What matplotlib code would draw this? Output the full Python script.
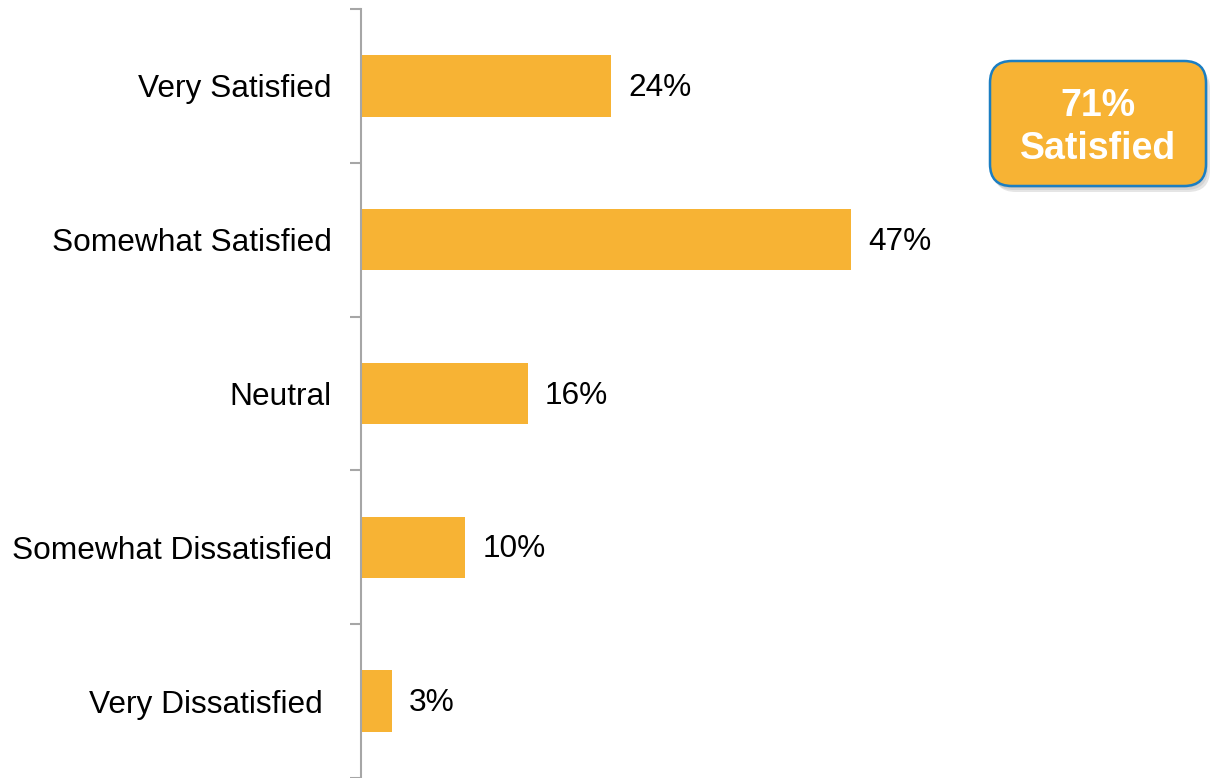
import matplotlib
matplotlib.use("Agg")
import matplotlib.pyplot as plt
from matplotlib.patches import FancyBboxPatch
from matplotlib.ticker import FixedLocator

plt.rcParams['font.family'] = ['Liberation Sans', 'DejaVu Sans']

categories = ["Very Satisfied", "Somewhat Satisfied", "Neutral",
              "Somewhat Dissatisfied", "Very Dissatisfied "]
values = [24, 47, 16, 10, 3]
summary_pct = 71
summary_label = "Satisfied"

bar_color = "#F7B334"
axis_color = "#A6A6A6"

W, H = 1214, 778
fig = plt.figure(figsize=(W / 100, H / 100), dpi=100)
ax = fig.add_axes([361 / W, 0, 1 - 361 / W, 769 / H])

ypos = list(range(len(categories)))
ax.barh(ypos, values, height=0.40, color=bar_color, zorder=2)

ax.set_ylim(len(categories) - 0.5, -0.5)
ax.set_xlim(0, 81.8)

for y, v in zip(ypos, values):
    ax.annotate(f"{v}%", xy=(v, y), xytext=(12.2, -1.5), textcoords="offset points",
                ha="left", va="center", fontsize=22.8, color="#000000")

# category boundaries carry the tick marks, centres carry the labels
ax.yaxis.set_major_locator(FixedLocator([i - 0.5 for i in range(len(categories) + 1)]))
ax.yaxis.set_minor_locator(FixedLocator(ypos))
ax.set_yticklabels([])
ax.set_yticklabels(categories, minor=True)
ax.tick_params(axis="y", which="major", length=8, width=1.5, color=axis_color, direction="out")
ax.tick_params(axis="y", which="minor", length=0, pad=21, labelsize=22.8)

ax.set_xticks([])
for side in ("top", "right", "bottom"):
    ax.spines[side].set_visible(False)
ax.spines["left"].set_color(axis_color)
ax.spines["left"].set_linewidth(1.5)

# summary callout
bx, by, bw, bh = 990, 61, 216, 125
for k, a in enumerate([0.08, 0.08, 0.10]):
    off = 2 + k * 2
    sh = FancyBboxPatch(((bx + off - 2) / W, 1 - (by + bh + off) / H), bw / W, bh / H,
                        boxstyle="round,pad=0,rounding_size=0.018", transform=fig.transFigure,
                        facecolor="#000000", edgecolor="none", alpha=a, zorder=3,
                        mutation_aspect=W / H)
    fig.patches.append(sh)
box = FancyBboxPatch((bx / W, 1 - (by + bh) / H), bw / W, bh / H,
                     boxstyle="round,pad=0,rounding_size=0.018", transform=fig.transFigure,
                     facecolor=bar_color, edgecolor="#1B7EC2", linewidth=1.8, zorder=4,
                     mutation_aspect=W / H)
fig.patches.append(box)
fig.text((bx + bw / 2) / W, 1 - (by + bh / 2 + 4) / H, f"{summary_pct}%\n{summary_label}",
         ha="center", va="center", color="white", fontsize=27, fontweight="bold",
         linespacing=1.25, zorder=5)

fig.savefig("out.png", dpi=100)
